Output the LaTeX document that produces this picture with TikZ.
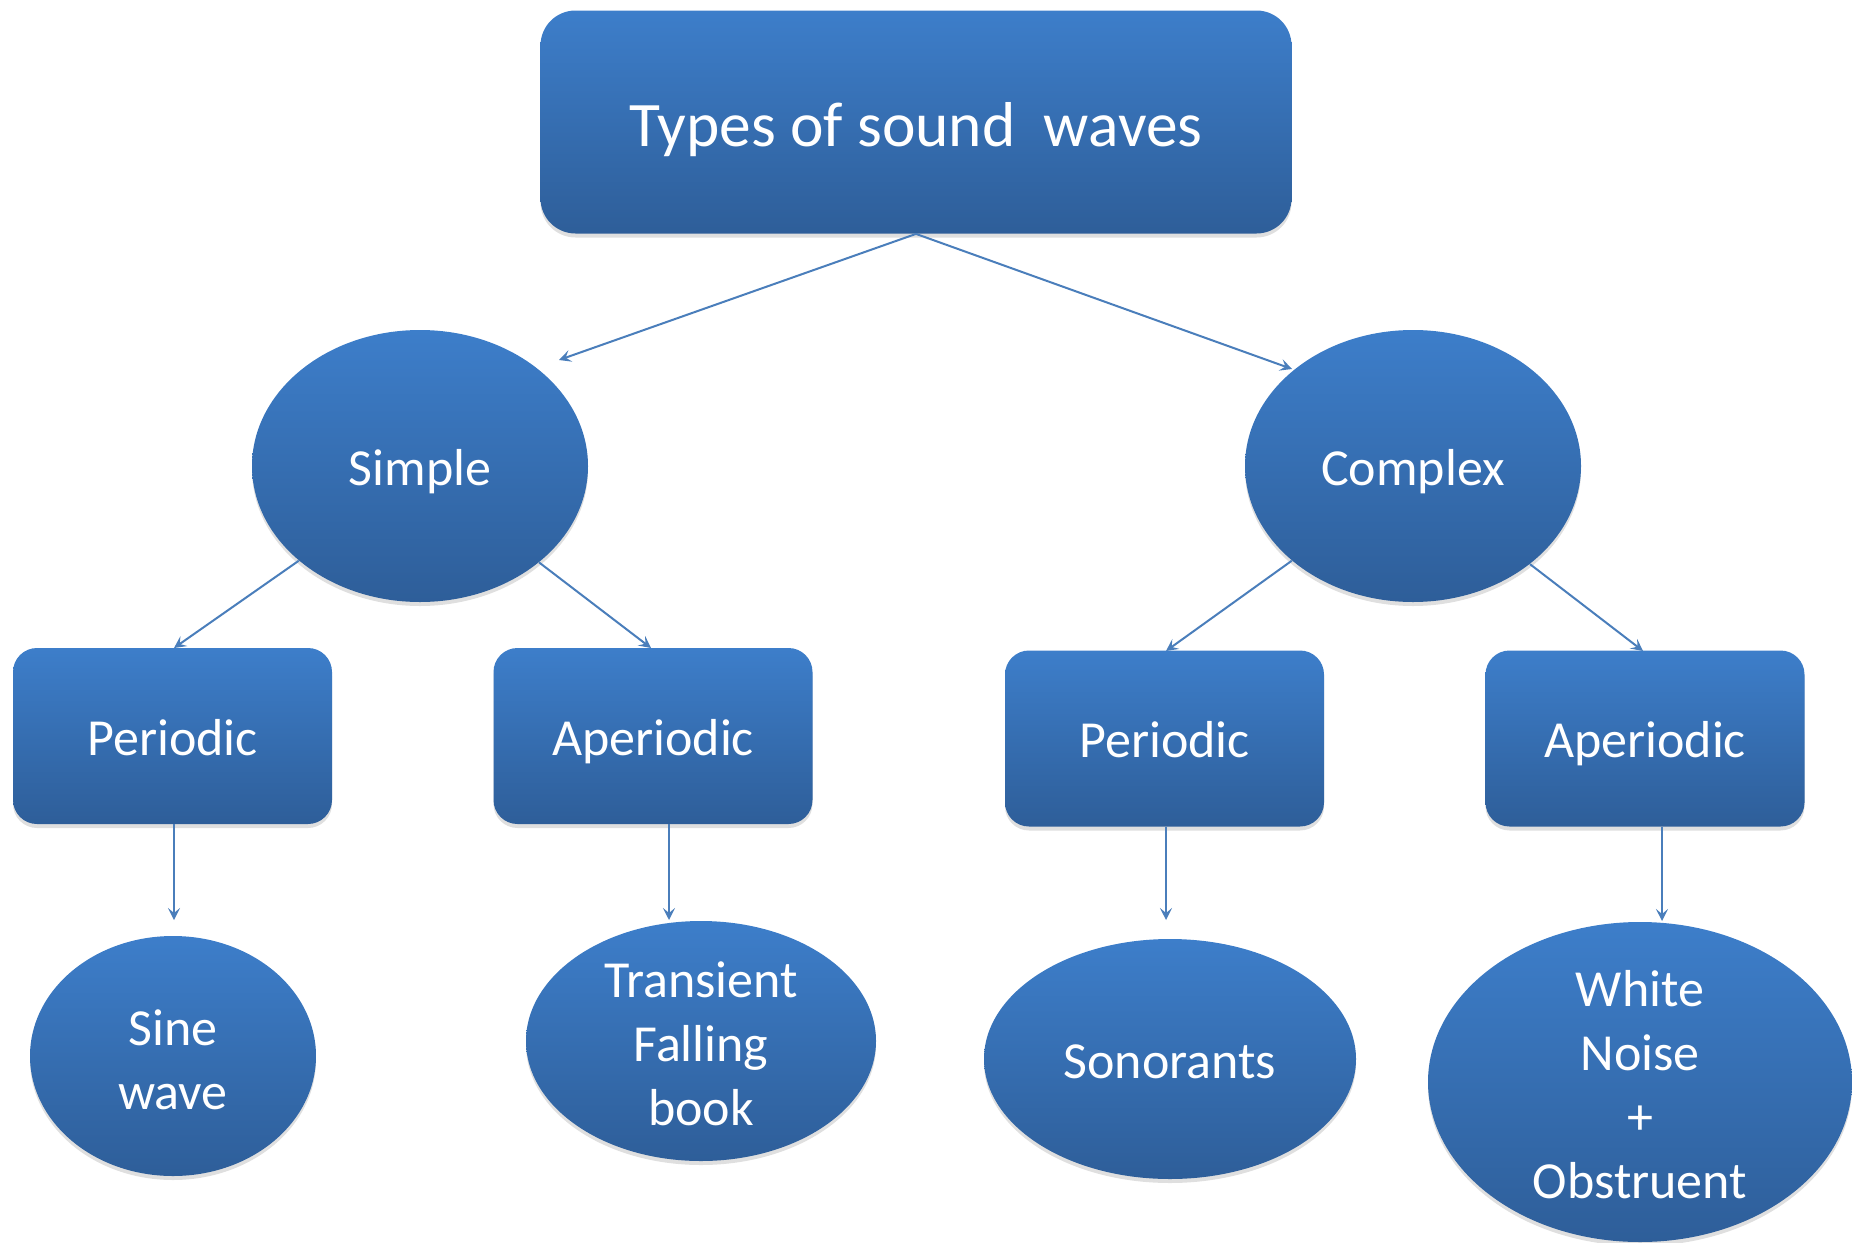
\documentclass[tikz,border=0pt]{standalone}
\usepackage{fontspec}
\setmainfont{Carlito}
\usetikzlibrary{arrows.meta,shapes.geometric,shadows}
\definecolor{boxtop}{RGB}{61,126,202}
\definecolor{boxbot}{RGB}{46,94,153}
\definecolor{arr}{RGB}{74,126,187}
\begin{document}
\begin{tikzpicture}[x=0.5pt,y=-0.5pt,
  base/.style={top color=boxtop, bottom color=boxbot, draw=none, text=white,
    font=\fontsize{26}{32}\selectfont, align=center, inner sep=0pt,
    text height=19.4pt, text depth=0pt,
    drop shadow={shadow xshift=0pt, shadow yshift=-2pt, opacity=0.25}},
  rbox/.style={base, rectangle, rounded corners=12pt, minimum width=159.5pt, minimum height=88pt},
  ell/.style={base, ellipse},
  txt/.style={text=white, font=\fontsize{26}{32}\selectfont, align=center, inner sep=0pt},
  conn/.style={draw=arr, line width=1pt, -{Stealth[length=6pt,width=6pt,inset=2.5pt]}}]
\useasboundingbox (0,0) rectangle (1852,1242);
% top
\node[base, rectangle, rounded corners=17.5pt, minimum width=375.5pt, minimum height=111.5pt,
  font=\fontsize{31.7}{38}\selectfont, text height=24.5pt] (top) at (916,122) {Types of sound\ \ waves};
% second level
\node[ell, minimum width=168pt, minimum height=136pt] (simple) at (420,466) {Simple};
\node[ell, minimum width=168pt, minimum height=136pt] (complex) at (1413,466) {Complex};
% third level
\node[rbox] (pl) at (172.5,736) {Periodic};
\node[rbox] (al) at (653,736) {Aperiodic};
\node[rbox] (pr) at (1164.5,738.5) {Periodic};
\node[rbox] (ar) at (1645,738.5) {Aperiodic};
% leaves
\node[ell, minimum width=143pt, minimum height=120pt] (sine) at (173,1056) {};
\node[txt] (sinet) at (173,1060) {Sine\\wave};
\node[ell, minimum width=175pt, minimum height=120pt] (trans) at (701,1041) {};
\node[txt] (transt) at (701,1044) {Transient\\Falling\\book};
\node[ell, minimum width=186pt, minimum height=120pt] (sono) at (1170,1059) {Sonorants};
\node[ell, minimum width=212pt, minimum height=160pt] (wn) at (1640,1082) {};
\node[txt] (wnt) at (1640,1085) {White\\Noise\\+\\Obstruent};
% free ends
\coordinate (e1) at (559,360);
\coordinate (e2) at (1292,369);
\coordinate (e3) at (174,648);
\coordinate (e4) at (651,648);
\coordinate (e5) at (1166,651);
\coordinate (e6) at (1643,651);
\coordinate (e7) at (174,920);
\coordinate (e8) at (669,920);
\coordinate (e9) at (1166,920);
\coordinate (e10) at (1662,921);
% connectors
\draw[conn] (top.south) -- (e1);
\draw[conn] (top.south) -- (e2);
\draw[conn] (simple.218.7) -- (e3);
\draw[conn] (simple.321.6) -- (e4);
\draw[conn] (complex.218.7) -- (e5);
\draw[conn] (complex.320.8) -- (e6);
\draw[conn] (e7 |- pl.south) -- (e7);
\draw[conn] (e8 |- al.south) -- (e8);
\draw[conn] (e9 |- pr.south) -- (e9);
\draw[conn] (e10 |- ar.south) -- (e10);
\end{tikzpicture}
\end{document}
